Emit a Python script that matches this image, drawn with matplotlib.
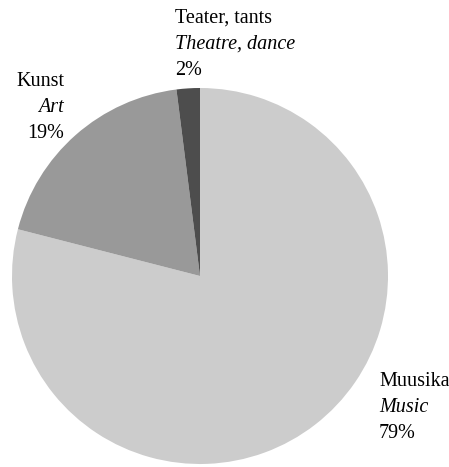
import matplotlib
matplotlib.use("Agg")
import matplotlib.pyplot as plt

categories_et = ["Muusika", "Kunst", "Teater, tants"]
categories_en = ["Music", "Art", "Theatre, dance"]
values = [79, 19, 2]
colors = ["#cccccc", "#999999", "#4d4d4d"]

W, H = 449, 467
fig = plt.figure(figsize=(W / 100, H / 100), dpi=100)
ax = fig.add_axes([0, 0, 1, 1])
ax.pie(values, colors=colors, startangle=90, counterclock=False,
       center=(200, H - 276), radius=188,
       wedgeprops=dict(linewidth=0, antialiased=True))
ax.set_xlim(0, W)
ax.set_ylim(0, H)
ax.set_aspect("auto")
ax.axis("off")

font = "Liberation Serif"
fs = 14.5
# label anchor: (x, first baseline in pixels from top, ha)
anchors = [(379, 386, "left"), (64, 86, "right"), (175, 23, "left")]
step = 26
for (x, y0, ha), et, en, v in zip(anchors, categories_et, categories_en, values):
    ax.text(x, H - y0, et, ha=ha, va="baseline", fontsize=fs, family=font)
    ax.text(x, H - (y0 + step), en, ha=ha, va="baseline", fontsize=fs,
            family=font, style="italic")
    ax.text(x, H - (y0 + 2 * step), f"{v}%", ha=ha, va="baseline",
            fontsize=fs, family=font)

fig.savefig("out.png", dpi=100)
